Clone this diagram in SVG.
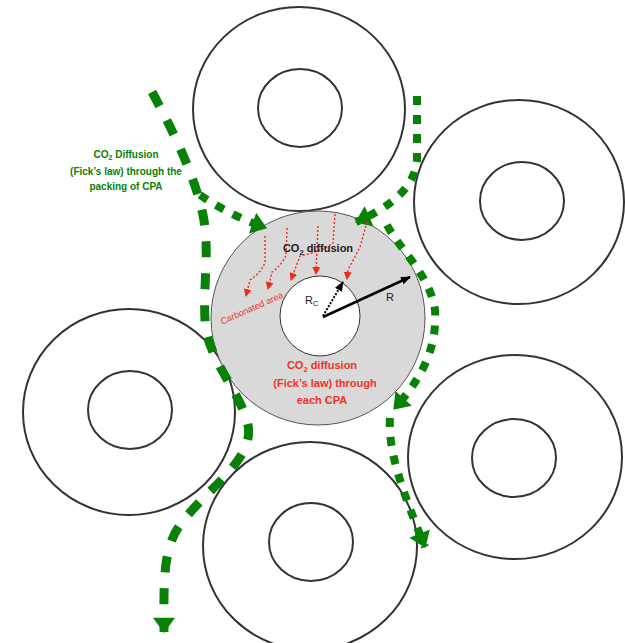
<svg xmlns="http://www.w3.org/2000/svg" width="625" height="643" viewBox="0 0 625 643">
  <style>
    .outer { fill: none; stroke: #333333; stroke-width: 2; }
    .inner { fill: none; stroke: #333333; stroke-width: 2; }
    .g-long { fill: none; stroke: #078207; stroke-width: 9; stroke-dasharray: 16 16; }
    .g-sq { fill: none; stroke: #078207; stroke-width: 8; stroke-dasharray: 9 10; }
    .red { fill: none; stroke: #f02a1a; stroke-width: 1.4; stroke-dasharray: 2 2; }
    .glabel { font-family: "Liberation Sans", Arial, sans-serif; font-weight: bold; font-size: 10px; fill: #078207; }
    .rlabel { font-family: "Liberation Sans", Arial, sans-serif; font-weight: bold; font-size: 11px; fill: #f03322; }
    .blabel { font-family: "Liberation Sans", Arial, sans-serif; font-size: 11px; fill: #222222; }
  </style>
  <defs>
    <marker id="gArrow" viewBox="0 0 14 20" refX="13" refY="10" markerUnits="userSpaceOnUse" markerWidth="16" markerHeight="22" orient="auto">
      <path d="M0,0 L14,10 L0,20 z" fill="#078207"/>
    </marker>
    <marker id="rArrow" viewBox="0 0 8 8" refX="7" refY="4" markerUnits="userSpaceOnUse" markerWidth="8" markerHeight="8" orient="auto">
      <path d="M0,0 L8,4 L0,8 z" fill="#f02a1a"/>
    </marker>
    <marker id="kArrow" viewBox="0 0 10 8" refX="9" refY="4" markerUnits="userSpaceOnUse" markerWidth="10" markerHeight="8" orient="auto">
      <path d="M0,0 L10,4 L0,8 z" fill="#000000"/>
    </marker>
  </defs>

  <g id="particle-top">
    <ellipse class="outer" cx="299" cy="109" rx="106" ry="102"/>
    <ellipse class="inner" cx="300" cy="108" rx="42" ry="39"/>
  </g>
  <g id="particle-right-top">
    <ellipse class="outer" cx="519" cy="202" rx="105" ry="102"/>
    <ellipse class="inner" cx="522" cy="201" rx="42" ry="39"/>
  </g>
  <g id="particle-left">
    <ellipse class="outer" cx="129" cy="412" rx="106" ry="103"/>
    <ellipse class="inner" cx="130" cy="410" rx="42" ry="39"/>
  </g>
  <g id="particle-right-bottom">
    <ellipse class="outer" cx="515" cy="457" rx="107" ry="102"/>
    <ellipse class="inner" cx="514" cy="458" rx="42" ry="39"/>
  </g>
  <g id="particle-bottom">
    <ellipse class="outer" cx="310" cy="546" rx="107" ry="104"/>
    <ellipse class="inner" cx="311" cy="542" rx="42" ry="39"/>
  </g>

  <g id="cpa-center">
    <circle cx="318" cy="318" r="107" fill="#d9d9d9" stroke="#555555" stroke-width="1"/>
    <circle cx="320" cy="316" r="40" fill="#ffffff" stroke="#333333" stroke-width="1"/>
  </g>

  <g id="connectors">
    <!-- green flow paths -->
    <path class="g-long" d="M152,92 C170,125 195,175 203,215 C210,250 203,285 205,320 C207,360 240,390 248,425 C255,460 205,490 180,525 C162,550 164,585 164,632" marker-end="url(#gArrow)"/>
    <path class="g-sq" d="M200,195 C215,205 235,217 266,228" marker-end="url(#gArrow)"/>
    <path class="g-sq" d="M417,96 L417,160 C415,185 395,205 356,222" marker-end="url(#gArrow)"/>
    <path class="g-sq" d="M387,225 C400,250 430,275 435,310 C437,345 425,375 394,409" marker-end="url(#gArrow)"/>
    <path class="g-sq" d="M390,418 C388,450 400,485 425,547" marker-end="url(#gArrow)"/>
    <!-- red CO2 diffusion arrows -->
    <path class="red" d="M265,236 L265,262 Q262,272 250,280 L246,296" marker-end="url(#rArrow)"/>
    <path class="red" d="M287,228 L286,255 Q282,265 272,272 L268,289" marker-end="url(#rArrow)"/>
    <path class="red" d="M335,214 L333,243 Q320,252 300,256 L291,280" marker-end="url(#rArrow)"/>
    <path class="red" d="M318,226 L316,274" marker-end="url(#rArrow)"/>
    <path class="red" d="M367,222 L360,247 L348,270 L347,279" marker-end="url(#rArrow)"/>
    <!-- radius arrows -->
    <path d="M323,317 L410,277" fill="none" stroke="#000000" stroke-width="2.5" marker-end="url(#kArrow)"/>
    <path d="M323,316 L343,282" fill="none" stroke="#000000" stroke-width="2" stroke-dasharray="2 1.5" marker-end="url(#kArrow)"/>
  </g>

  <g id="labels">
    <text class="glabel" text-anchor="middle" x="126" y="158">CO<tspan font-size="7" dy="2">2</tspan><tspan dy="-2"> Diffusion</tspan></text>
    <text class="glabel" text-anchor="middle" x="126" y="175">(Fick’s law) through the</text>
    <text class="glabel" text-anchor="middle" x="126" y="190">packing of CPA</text>

    <text class="blabel" font-weight="bold" font-size="11.5" text-anchor="middle" x="318" y="252">CO<tspan font-size="7.5" dy="2.5">2</tspan><tspan dy="-2.5"> diffusion</tspan></text>

    <text class="rlabel" text-anchor="middle" x="322" y="369">CO<tspan font-size="7.5" dy="2.5">2</tspan><tspan dy="-2.5"> diffusion</tspan></text>
    <text class="rlabel" text-anchor="middle" x="325" y="387">(Fick’s law) through</text>
    <text class="rlabel" text-anchor="middle" x="322" y="404">each CPA</text>

    <text font-family="Liberation Sans, Arial, sans-serif" font-size="9" fill="#f03322" text-anchor="middle" x="253" y="311" transform="rotate(-24 253 311)">Carbonated area</text>

    <text class="blabel" x="386" y="301">R</text>
    <text class="blabel" x="305" y="304">R<tspan font-size="7.5" dy="2">C</tspan></text>
  </g>
</svg>
